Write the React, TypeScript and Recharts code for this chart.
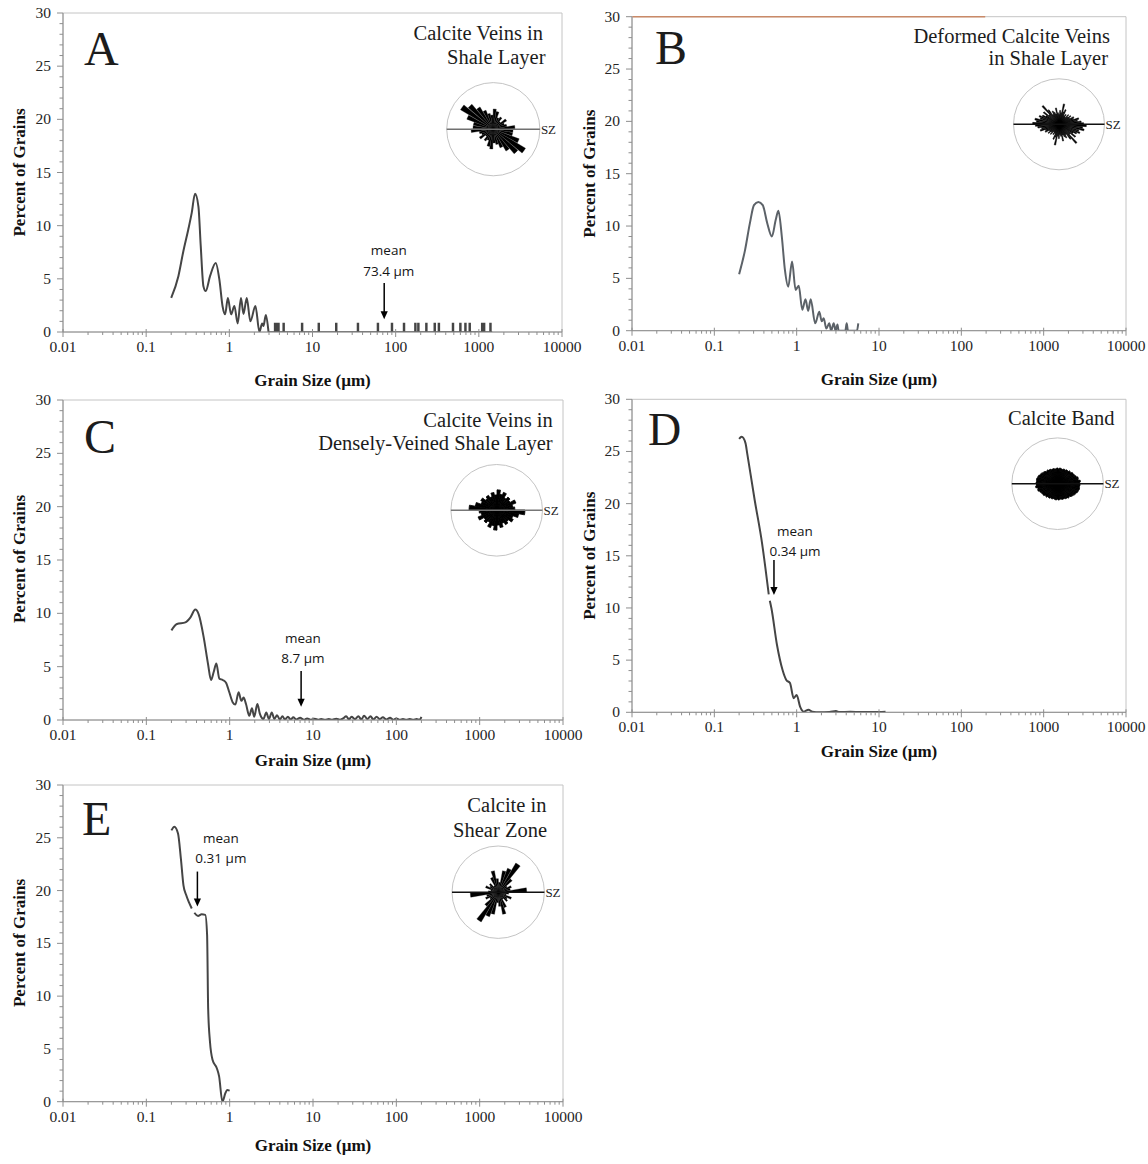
import React from 'react';
import {
  LineChart, Line, XAxis, YAxis, ReferenceLine, ReferenceArea, ReferenceDot,
  RadialBarChart, RadialBar, PolarAngleAxis, PolarRadiusAxis,
} from 'recharts';

// ---------- axis ticks ----------
const X_TICKS = [0.01, 0.1, 1, 10, 100, 1000, 10000];
const X_TICK_LABELS = ['0.01', '0.1', '1', '10', '100', '1000', '10000'];
const MINOR_STEPS = [2, 3, 4, 5, 6, 7, 8, 9];
const X_MINOR = X_TICKS.slice(0, -1).flatMap((d) => MINOR_STEPS.map((m) => Number((d * m).toPrecision(2))));
const X_ALL = [...X_TICKS, ...X_MINOR].sort((a, b) => a - b);
const Y_TICKS = [0, 5, 10, 15, 20, 25, 30];
const Y_MINOR = [1, 2, 3, 4, 6, 7, 8, 9, 11, 12, 13, 14, 16, 17, 18, 19, 21, 22, 23, 24, 26, 27, 28, 29];
const Y_ALL = [...Y_TICKS, ...Y_MINOR].sort((a, b) => a - b);

// ---------- panel A ----------
const sizeA = [0.2, 0.244, 0.28, 0.32, 0.353, 0.387, 0.425, 0.453, 0.488, 0.52, 0.586, 0.686, 0.76, 0.83, 0.89, 0.96, 1.05, 1.15, 1.26, 1.38, 1.48, 1.62, 1.79, 2.06, 2.3, 2.48, 2.57, 2.75, 2.96];
const pctA = [3.2, 5.25, 7.6, 9.6, 11.2, 13.0, 11.8, 8.1, 4.3, 3.85, 5.25, 6.5, 4.9, 2.4, 1.66, 3.2, 1.66, 2.45, 0.8, 3.2, 1.7, 3.2, 1.0, 2.45, 0, 0.8, 0.56, 1.6, 0];
const spikeSizeA = [3.55, 3.72, 3.9, 4.5, 7.5, 11.9, 19.3, 35.2, 61.2, 90.3, 126, 172.6, 187.5, 234, 295, 331, 489, 600, 690, 777, 1097, 1158, 1380];
const spikePctA = 0.8;
const tailEndA = 1450;

// ---------- panel B ----------
const sizeB = [0.2, 0.236, 0.27, 0.303, 0.343, 0.387, 0.44, 0.5, 0.557, 0.6, 0.66, 0.72, 0.79, 0.88, 0.97, 1.06, 1.17, 1.28, 1.38, 1.48, 1.68, 1.88, 2.02, 2.13, 2.29, 2.49, 2.62, 2.82, 2.97, 3.13, 3.23, 3.9, 4.05, 4.2, 5.4, 5.6];
const pctB = [5.4, 7.7, 10.25, 12.0, 12.3, 12.0, 10.25, 9.0, 10.6, 11.46, 9.0, 5.8, 4.2, 6.6, 3.9, 4.3, 2.0, 3.0, 1.9, 3.0, 0.7, 1.8, 0.9, 1.2, 0.2, 0.7, 0, 0.7, 0, 0.6, 0, 0, 0.7, 0, 0, 0.7];

// ---------- panel C ----------
const sizeC = [0.2, 0.233, 0.294, 0.337, 0.387, 0.425, 0.488, 0.55, 0.597, 0.643, 0.692, 0.75, 0.824, 0.904, 0.99, 1.09, 1.17, 1.28, 1.38, 1.47, 1.57, 1.72, 1.85, 1.97, 2.15, 2.3, 2.54, 2.75, 2.96, 3.2, 3.44, 3.7, 4.0, 4.3, 4.6, 5.0, 5.4, 5.8, 6.3, 7.0, 7.8, 8.5, 9.5, 10.5, 11.5, 12.5, 14, 15.5, 17, 19, 21, 23, 25, 27, 29, 32, 35, 38, 41, 45, 49, 53, 58, 63, 69, 76, 84, 92, 100, 110, 120, 132, 145, 160, 175, 190, 200];
const pctC = [8.4, 9.0, 9.15, 9.6, 10.35, 9.9, 7.75, 5.25, 3.75, 4.5, 5.3, 3.9, 3.75, 3.5, 2.6, 1.65, 1.45, 2.6, 1.8, 2.1, 1.5, 0.4, 1.1, 0.3, 1.5, 0.6, 0.1, 0.7, 0.1, 0.7, 0.1, 0.45, 0.05, 0.35, 0.05, 0.3, 0.05, 0.25, 0.05, 0.2, 0.02, 0.15, 0.02, 0.12, 0.02, 0.1, 0.02, 0.1, 0.02, 0.12, 0.02, 0.15, 0.35, 0.05, 0.3, 0.08, 0.35, 0.05, 0.4, 0.1, 0.35, 0.05, 0.3, 0.08, 0.25, 0.05, 0.2, 0.02, 0.15, 0.02, 0.1, 0.02, 0.1, 0.02, 0.1, 0.02, 0.3];

// ---------- panel D ----------
const sizeD = [0.2, 0.215, 0.239, 0.251, 0.309, 0.38, 0.458, 0.465, 0.472, 0.493, 0.577, 0.674, 0.748, 0.83, 0.92, 1.0, 1.1, 1.22, 1.39, 1.55, 1.9, 2.5, 3.0, 3.3, 4.5, 6, 8, 10, 12];
const pctD = [26.2, 26.4, 25.8, 24.8, 20.35, 16.2, 11.3, null, 10.7, 10.0, 6.45, 4.05, 3.1, 2.8, 1.35, 1.66, 0.55, 0.06, 0.25, 0.06, 0, 0.02, 0.12, 0.02, 0.05, 0.02, 0.04, 0.02, 0.05];

// ---------- panel E ----------
const sizeE = [0.2, 0.217, 0.24, 0.26, 0.279, 0.3, 0.324, 0.351, 0.364, 0.377, 0.417, 0.461, 0.51, 0.536, 0.552, 0.58, 0.624, 0.703, 0.747, 0.818, 0.887, 0.933, 1.0];
const pctE = [25.7, 26.05, 25.4, 23.0, 20.5, 19.6, 18.9, 18.3, null, 17.9, 17.6, 17.75, 17.7, 15.8, 8.8, 5.7, 3.95, 3.15, 2.4, 0, 0.8, 1.1, 1.05];

// ---------- mean grain sizes ----------
const meanLabels = ['73.4 µm', null, '8.7 µm', '0.34 µm', '0.31 µm'];
const meanArrowX = [72.8, null, 7.2, 0.53, 0.41];
const meanArrowTop = [4.6, null, 4.6, 14.6, 21.8];
const meanArrowTip = [1.2, null, 1.25, 11.25, 18.5];

// ---------- rose diagrams (axial, bins over 0-180°, scale 0-10) ----------
const roseA = [4.3, 4.7, 3.0, 2.6, 3.4, 2.1, 3.0, 2.6, 3.8, 4.3, 3.0, 3.4, 4.3, 5.5, 7.0, 8.1, 6.0, 4.3];
const roseB = [5.9, 5.3, 4.8, 4.0, 4.4, 3.3, 3.5, 2.6, 3.1, 2.4, 2.9, 2.0, 2.6, 2.2, 3.5, 2.9, 4.6, 2.6, 3.1, 2.2, 2.6, 3.7, 2.4, 2.9, 3.3, 2.6, 4.0, 5.5, 3.1, 4.4, 3.5, 4.2, 4.8, 4.4, 5.5, 5.1];
const roseC = [6.1, 3.9, 3.5, 4.4, 3.3, 3.7, 3.1, 4.1, 3.5, 4.4, 3.3, 3.9, 3.1, 3.7, 3.3, 4.1, 3.7, 4.8];
const roseD = [4.8, 4.7, 4.9, 4.5, 4.6, 4.3, 4.1, 4.0, 4.0, 3.7, 3.8, 3.5, 3.6, 3.4, 3.5, 3.3, 3.4, 3.5, 3.3, 3.5, 3.3, 3.4, 3.5, 3.4, 3.6, 3.6, 3.8, 3.7, 4.0, 4.1, 4.3, 4.4, 4.6, 4.7, 4.8, 4.7];
const roseE = [2.2, 6.1, 2.6, 3.0, 2.2, 3.9, 7.4, 5.6, 4.8, 2.2, 3.0, 4.8, 3.5, 1.7, 2.6, 2.2, 3.0, 1.7];

// ---------- helpers ----------
const rows = (xs: number[], ys: (number | null)[]) => xs.map((x, i) => ({ x, y: ys[i] }));
const spikeRows = (start: number, sizes: number[], h: number, end: number) => {
  const w = 1.012;
  const out: { x: number; y: number }[] = [{ x: start, y: 0 }];
  sizes.forEach((s) => {
    out.push({ x: s / w, y: 0 }, { x: s / w, y: h }, { x: s * w, y: h }, { x: s * w, y: 0 });
  });
  out.push({ x: end, y: 0 });
  return out;
};

const SERIF = '"Liberation Serif", "Times New Roman", serif';
const SANS = '"Open Sans", "Noto Sans", sans-serif';
const AXIS = '#8e8e8e';
const TICK_TEXT = '#262626';

type PanelCfg = {
  key: string;
  box: { left: number; top: number; width: number; height: number };
  plot: { l: number; r: number; t: number; b: number };
  series: { data: any[]; type: any; color: string; width: number }[];
  mean: number | null;
  meanDx: number;
  meanOff: [number, number];
  letter: { x: number; y: number; size: number };
  title: { t: string; x: number; y: number }[];
  rose: { cx: number; cy: number; r: number; bins: number[]; gap: string | number; line: string; seam: number };
  yLabel: { x: number; y: number };
  xLabel: { x: number; y: number };
  extra?: boolean;
};

const PANELS: PanelCfg[] = [
  {
    key: 'A',
    box: { left: 0, top: 0, width: 600, height: 390 },
    plot: { l: 63, r: 562, t: 13, b: 332 },
    series: [
      { data: rows(sizeA, pctA), type: 'monotone', color: '#454545', width: 2 },
      { data: spikeRows(2.96, spikeSizeA, spikePctA, tailEndA), type: 'linear', color: '#454545', width: 1.6 },
    ],
    mean: 0, meanDx: 4.6, meanOff: [-27.7, -7.5],
    letter: { x: 84, y: 65, size: 48 },
    title: [{ t: 'Calcite Veins in', x: 543, y: 40 }, { t: 'Shale Layer', x: 545.5, y: 63.5 }],
    rose: { cx: 493.3, cy: 129.2, r: 46.6, bins: roseA, gap: '4%', line: '#707070', seam: 0.3 },
    yLabel: { x: 19, y: 172.5 },
    xLabel: { x: 312.5, y: 385.5 },
  },
  {
    key: 'B',
    box: { left: 570, top: 0, width: 578, height: 390 },
    plot: { l: 632, r: 1126, t: 16.7, b: 330.7 },
    series: [{ data: rows(sizeB, pctB), type: 'monotone', color: '#5c6268', width: 2 }],
    mean: null, meanDx: 0, meanOff: [0, 0],
    letter: { x: 655, y: 63.5, size: 48 },
    title: [{ t: 'Deformed Calcite Veins', x: 1110, y: 42.5 }, { t: 'in Shale Layer', x: 1108, y: 65.2 }],
    rose: { cx: 1059, cy: 124.3, r: 45.5, bins: roseB, gap: '8%', line: '#111', seam: 0.5 },
    yLabel: { x: 589, y: 173.7 },
    xLabel: { x: 879, y: 384.8 },
    extra: true,
  },
  {
    key: 'C',
    box: { left: 0, top: 390, width: 600, height: 390 },
    plot: { l: 63, r: 563, t: 400, b: 720 },
    series: [{ data: rows(sizeC, pctC), type: 'monotone', color: '#454545', width: 2 }],
    mean: 2, meanDx: 1.8, meanOff: [-28.1, -7.9],
    letter: { x: 84, y: 453.3, size: 48 },
    title: [{ t: 'Calcite Veins in', x: 552.7, y: 426.7 }, { t: 'Densely-Veined Shale Layer', x: 552.7, y: 450.2 }],
    rose: { cx: 496.7, cy: 510.3, r: 45.8, bins: roseC, gap: 0, line: '#777', seam: 0.8 },
    yLabel: { x: 19, y: 559 },
    xLabel: { x: 313, y: 765.5 },
  },
  {
    key: 'D',
    box: { left: 570, top: 390, width: 578, height: 390 },
    plot: { l: 632, r: 1126, t: 399.3, b: 712.3 },
    series: [{ data: rows(sizeD, pctD), type: 'monotone', color: '#454545', width: 2 }],
    mean: 3, meanDx: 21, meanOff: [-23.7, -4.2],
    letter: { x: 648, y: 445, size: 46 },
    title: [{ t: 'Calcite Band', x: 1114.5, y: 425 }],
    rose: { cx: 1057.6, cy: 483.7, r: 45.8, bins: roseD, gap: 0, line: '#111', seam: 0.8 },
    yLabel: { x: 589, y: 555.8 },
    xLabel: { x: 879, y: 757 },
  },
  {
    key: 'E',
    box: { left: 0, top: 775, width: 600, height: 389 },
    plot: { l: 63, r: 563, t: 785, b: 1101.7 },
    series: [{ data: rows(sizeE, pctE), type: 'monotone', color: '#454545', width: 2 }],
    mean: 4, meanDx: 23.5, meanOff: [-28.8, -8.6],
    letter: { x: 82, y: 835, size: 48 },
    title: [{ t: 'Calcite in', x: 546.5, y: 811.7 }, { t: 'Shear Zone', x: 547, y: 836.7 }],
    rose: { cx: 498.2, cy: 892.2, r: 46.2, bins: roseE, gap: '6%', line: '#111', seam: 0.3 },
    yLabel: { x: 19, y: 943 },
    xLabel: { x: 313, y: 1150.5 },
  },
];

const XTick = (props: any) => {
  const { x, y, payload } = props;
  const v = payload.value;
  const idx = X_TICKS.indexOf(v);
  const major = idx >= 0;
  return (
    <g>
      <line x1={x} x2={x} y1={major ? y - 3 : y} y2={y + (major ? 5 : 3)} stroke={AXIS} strokeWidth={1} />
      {major && (
        <text x={x} y={y + 20} textAnchor="middle" fontFamily={SERIF} fontSize={15.5} fill={TICK_TEXT}>
          {X_TICK_LABELS[idx]}
        </text>
      )}
    </g>
  );
};

const YTick = (props: any) => {
  const { x, y, payload } = props;
  const v = payload.value;
  const major = Y_TICKS.includes(v);
  return (
    <g>
      <line x1={x - (major ? 6 : 3.5)} x2={x} y1={y} y2={y} stroke={AXIS} strokeWidth={1} />
      {major && (
        <text x={x - 12} y={y + 5} textAnchor="end" fontFamily={SERIF} fontSize={15.5} fill={TICK_TEXT}>
          {String(v)}
        </text>
      )}
    </g>
  );
};

const ArrowHead = ({ cx, cy }: any) => (
  <path d={`M${cx},${cy} L${cx - 3.6},${cy - 8} L${cx + 3.6},${cy - 8} Z`} fill="#000" />
);

function Panel({ p }: { p: PanelCfg }) {
  const { box, plot } = p;
  const margin = {
    top: plot.t - box.top,
    left: plot.l - box.left - 1,
    right: box.left + box.width - plot.r,
    bottom: box.top + box.height - plot.b - 1,
  };
  const mi = p.mean;
  return (
    <div style={{ position: 'absolute', left: box.left, top: box.top, width: box.width, height: box.height }}>
      <LineChart width={box.width} height={box.height} margin={margin}>
        <XAxis
          xAxisId="main" dataKey="x" type="number" scale="log" domain={[0.01, 10000]} allowDataOverflow
          height={1} stroke={AXIS} interval={0} ticks={X_ALL} tickSize={0} tickMargin={0} tickLine={false}
          tick={<XTick />}
        />
        <YAxis
          yAxisId="main" type="number" domain={[0, 30]} allowDataOverflow width={1} stroke={AXIS}
          interval={0} ticks={Y_ALL} tickSize={0} tickMargin={0} tickLine={false} tick={<YTick />}
        />
        <ReferenceArea
          xAxisId="main" yAxisId="main" x1={0.01} x2={10000} y1={0} y2={30}
          fill="none" fillOpacity={0} stroke="#c4c4c4" strokeWidth={1}
        />
        {p.extra && (
          <ReferenceLine
            xAxisId="main" yAxisId="main" segment={[{ x: 0.0101, y: 30 }, { x: 195, y: 30 }]}
            stroke="#c98a68" strokeWidth={1.6}
          />
        )}
        {p.series.map((s, i) => (
          <Line
            key={i} xAxisId="main" yAxisId="main" data={s.data} dataKey="y" type={s.type}
            stroke={s.color} strokeWidth={s.width} dot={false} activeDot={false}
            isAnimationActive={false} connectNulls={false}
          />
        ))}
        {mi !== null && (
          <ReferenceLine
            xAxisId="main" yAxisId="main"
            segment={[{ x: meanArrowX[mi]!, y: meanArrowTop[mi]! }, { x: meanArrowX[mi]!, y: meanArrowTip[mi]! + 0.3 }]}
            stroke="#000" strokeWidth={1.5}
          />
        )}
        {mi !== null && (
          <ReferenceDot
            xAxisId="main" yAxisId="main" x={meanArrowX[mi]!} y={meanArrowTip[mi]!} r={0}
            shape={(props: any) => <ArrowHead cx={props.cx} cy={props.cy} />}
          />
        )}
        {mi !== null && (
          <ReferenceDot
            xAxisId="main" yAxisId="main" x={meanArrowX[mi]!} y={meanArrowTop[mi]!} r={0}
            shape={(props: any) => (
              <g>
                <text x={props.cx + p.meanDx} y={props.cy + p.meanOff[0]} textAnchor="middle"
                  fontFamily={SANS} fontSize={13.5} fill="#151515">mean</text>
                <text x={props.cx + p.meanDx} y={props.cy + p.meanOff[1]} textAnchor="middle"
                  fontFamily={SANS} fontSize={13.5} fill="#151515">{meanLabels[mi]}</text>
              </g>
            )}
          />
        )}
      </LineChart>
      <Rose p={p} />
    </div>
  );
}

function Rose({ p }: { p: PanelCfg }) {
  const { cx, cy, r, bins, gap, seam } = p.rose;
  const data = [...bins, ...bins].map((v, i) => ({ k: i, v }));
  const size = Math.ceil(2 * r + 6);
  return (
    <div style={{ position: 'absolute', left: cx - p.box.left - size / 2, top: cy - p.box.top - size / 2 }}>
      <RadialBarChart
        width={size} height={size} cx={size / 2} cy={size / 2}
        innerRadius={0} outerRadius={r} startAngle={0} endAngle={360}
        layout="centric" data={data} barCategoryGap={gap}
        margin={{ top: 0, left: 0, right: 0, bottom: 0 }}
      >
        <PolarAngleAxis type="category" dataKey="k" tick={false} axisLine={false} tickLine={false} />
        <PolarRadiusAxis type="number" domain={[0, 10]} allowDataOverflow tick={false} axisLine={false} tickLine={false} />
        <RadialBar dataKey="v" fill="#000" stroke="#000" strokeWidth={seam} isAnimationActive={false} />
      </RadialBarChart>
    </div>
  );
}

function Overlay() {
  return (
    <svg width={1148} height={1164} style={{ position: 'absolute', left: 0, top: 0, pointerEvents: 'none' }}>
      {PANELS.map((p) => (
        <g key={p.key}>
          <text x={p.letter.x} y={p.letter.y} fontFamily={SERIF} fontSize={p.letter.size} fill="#1c1c1c">{p.key}</text>
          {p.title.map((t, i) => (
            <text key={i} x={t.x} y={t.y} textAnchor="end" fontFamily={SERIF} fontSize={20.5} fill="#1c1c1c">{t.t}</text>
          ))}
          <text
            transform={`translate(${p.yLabel.x},${p.yLabel.y}) rotate(-90)`} textAnchor="middle"
            dominantBaseline="central" fontFamily={SERIF} fontWeight="bold" fontSize={17} fill="#111"
          >Percent of Grains</text>
          <text x={p.xLabel.x} y={p.xLabel.y} textAnchor="middle" fontFamily={SERIF} fontWeight="bold" fontSize={17} fill="#111">
            Grain Size (µm)
          </text>
          <circle cx={p.rose.cx} cy={p.rose.cy} r={p.rose.r} fill="none" stroke="#c4c4c4" strokeWidth={1} />
          <line x1={p.rose.cx - p.rose.r} x2={p.rose.cx + p.rose.r} y1={p.rose.cy} y2={p.rose.cy}
            stroke={p.rose.line} strokeWidth={1.4} />
          <text x={p.rose.cx + p.rose.r + 1} y={p.rose.cy + 4.5} fontFamily={SERIF} fontSize={13} fill="#222">SZ</text>
        </g>
      ))}
    </svg>
  );
}

export default function App() {
  return (
    <div style={{ position: 'relative', width: 1148, height: 1164, background: '#fff', overflow: 'hidden' }}>
      <style>{'body{margin:0;}'}</style>
      {PANELS.map((p) => (
        <Panel key={p.key} p={p} />
      ))}
      <Overlay />
    </div>
  );
}
